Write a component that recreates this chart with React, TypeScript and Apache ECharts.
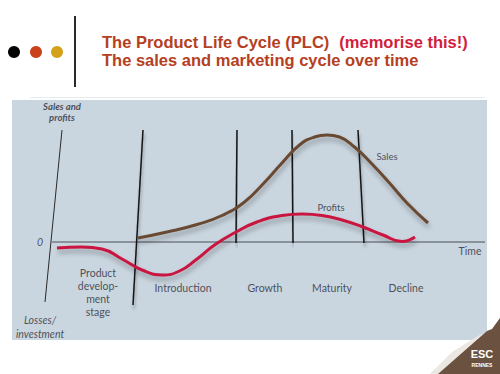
import React, { useEffect, useRef } from "react";
import * as echarts from "echarts";

// Time (x) and value (y) in chart units; zero line = 0
const salesData: [number, number][] = [
  [25.2, 0.8], [31, 2.0], [37, 3.5], [42, 5.3], [46.5, 8.0], [50.2, 11.6], [54, 15.8],
  [57.5, 19.4], [60.5, 21.0], [63, 21.4], [65.5, 21.0], [68.5, 19.0], [72, 15.6],
  [75.5, 11.8], [79, 7.8], [83.2, 3.8],
];
const profitsData: [number, number][] = [
  [9, -1.2], [14, -1.0], [18, -1.4], [22, -3.4], [26, -5.6], [30, -6.6], [33.5, -5.8],
  [37, -3.4], [40.5, -0.6], [44.8, 2.0], [49, 4.0], [54, 5.3], [58, 5.6], [62, 5.3],
  [66, 4.4], [70.2, 3.0], [74.2, 1.4], [78, 0.1], [80.6, 1],
];
// Stage boundary lines: [top point, bottom point]
const stageBoundaries: [number, number][][] = [
  [[26.2, 22.4], [24.2, -12.6]],
  [[45, 22.4], [44.8, -0.2]],
  [[56, 22.4], [56.2, -0.2]],
  [[69.2, 22.4], [70.4, -0.2]],
];
const valueAxisLine: [number, number][] = [[10, 22.4], [6.6, -12]];
const timeAxisLine: [number, number][] = [[8, 0], [94.6, 0]];

const stageLabels = ["Product\ndevelop-\nment\nstage", "Introduction", "Growth", "Maturity", "Decline"];
const stageLabelPos: [number, number][] = [[17.2, -10], [34.2, -9.2], [50.6, -9.2], [64, -9.2], [78.8, -9.2]];
const axisLabels = ["Sales and\nprofits", "0", "Time", "Losses/\ninvestment"];
const axisLabelPos: [number, number][] = [[10, 26], [5.6, 0], [91.6, -1.8], [5.6, -17]];
const curveLabels = ["Sales", "Profits"];
const curveLabelPos: [number, number][] = [[75, 17.2], [63.8, 7]];

const TEXT = "#2b2b36";
const FONT = "Lato, 'Open Sans', sans-serif";

export default function App() {
  const ref = useRef<HTMLDivElement>(null);
  useEffect(() => {
    if (!ref.current) return;
    const chart = echarts.init(ref.current, null, { renderer: "svg" });
    const shadow = { shadowBlur: 5, shadowColor: "rgba(0,0,0,0.3)", shadowOffsetY: 4, shadowOffsetX: 1 };
    const boundarySeries = stageBoundaries.map((pts) => ({
      type: "line",
      data: pts,
      symbol: "none",
      silent: true,
      lineStyle: { color: "#151515", width: 1.5, ...shadow, shadowBlur: 3 },
      z: 3,
    }));
    const labelItems = [
      ...stageLabels.map((t, i) => ({
        name: t,
        value: stageLabelPos[i],
        label: { fontStyle: "normal", lineHeight: 13 },
      })),
      ...axisLabels.map((t, i) => ({
        name: t,
        value: axisLabelPos[i],
        label: {
          fontStyle: i === 2 ? "normal" : "italic",
          fontWeight: i === 0 ? "bold" : "normal",
          fontSize: i === 0 ? 9.5 : 10.5,
          lineHeight: i === 0 ? 11 : 14,
        },
      })),
      ...curveLabels.map((t, i) => ({ name: t, value: curveLabelPos[i], label: { fontSize: 9.5 } })),
    ];
    chart.setOption({
      animation: false,
      backgroundColor: "#ffffff",
      title: {
        left: 102,
        top: 33,
        padding: 0,
        text:
          "{a|The Product Life Cycle (PLC)}  {b|(memorise this!)}\n{a|The sales and marketing cycle over time}",
        textStyle: {
          rich: {
            a: { fontFamily: "'Liberation Sans', Arial, sans-serif", fontWeight: "bold", fontSize: 16.5, color: "#b5401f", lineHeight: 18 },
            b: { fontFamily: "'Liberation Sans', Arial, sans-serif", fontWeight: "bold", fontSize: 16.5, color: "#d1203c", lineHeight: 18 },
          },
        },
      },
      grid: {
        left: 12,
        top: 100,
        width: 475,
        height: 240,
        show: true,
        backgroundColor: "#c9d5df",
        borderWidth: 0,
      },
      xAxis: { type: "value", min: 0, max: 95, show: false },
      yAxis: { type: "value", min: -19.6, max: 28.4, show: false },
      graphic: [
        { type: "line", shape: { x1: 30, y1: 97.5, x2: 485, y2: 97.5 }, style: { stroke: "#e4ecef", lineWidth: 1 } },
        { type: "circle", shape: { cx: 14, cy: 52, r: 6 }, style: { fill: "#050505" } },
        { type: "circle", shape: { cx: 36, cy: 52, r: 6 }, style: { fill: "#c9421b" } },
        { type: "circle", shape: { cx: 57, cy: 52, r: 6 }, style: { fill: "#d3a21a" } },
        { type: "line", shape: { x1: 75, y1: 16, x2: 75, y2: 87 }, style: { stroke: "#2a2a2a", lineWidth: 2 } },
        { type: "polygon", shape: { points: [[430, 374], [452, 352], [478, 336], [490, 330], [500, 326], [500, 374]] }, style: { fill: "#ebe7e2" } },
        { type: "polygon", shape: { points: [[438, 374], [487, 331], [492, 329], [500, 318], [500, 374]] }, style: { fill: "#6b5140" } },
        { type: "text", x: 482, y: 354, style: { text: "ESC", fill: "#ffffff", font: "bold 11px 'Liberation Sans Narrow', 'Liberation Sans', sans-serif", align: "center", verticalAlign: "middle" } },
        { type: "text", x: 482, y: 365, style: { text: "RENNES", fill: "#ffffff", font: "bold 5px 'Liberation Sans', sans-serif", align: "center", verticalAlign: "middle" } },
      ],
      series: [
        {
          type: "line",
          data: valueAxisLine,
          symbol: "none",
          silent: true,
          lineStyle: { color: "#2a2a2a", width: 1 },
          z: 2,
        },
        {
          type: "line",
          data: timeAxisLine,
          symbol: "none",
          silent: true,
          lineStyle: { color: "#4a4f57", width: 1 },
          z: 2,
        },
        ...boundarySeries,
        {
          type: "line",
          name: "Sales",
          data: salesData,
          smooth: 0.5,
          symbol: "none",
          silent: true,
          lineStyle: { color: "#6a4a32", width: 3, ...shadow },
          z: 4,
        },
        {
          type: "line",
          name: "Profits",
          data: profitsData,
          smooth: 0.5,
          symbol: "none",
          silent: true,
          lineStyle: { color: "#c9153f", width: 3, ...shadow },
          z: 5,
        },
        {
          type: "scatter",
          symbolSize: 0,
          silent: true,
          data: labelItems,
          z: 6,
          label: {
            show: true,
            position: "inside",
            formatter: "{b}",
            color: TEXT,
            fontFamily: FONT,
            fontSize: 10.5,
            align: "center",
            verticalAlign: "middle",
          },
        },
      ],
    });
    return () => chart.dispose();
  }, []);
  return <div ref={ref} style={{ position: "fixed", left: 0, top: 0, width: 500, height: 374 }} />;
}
